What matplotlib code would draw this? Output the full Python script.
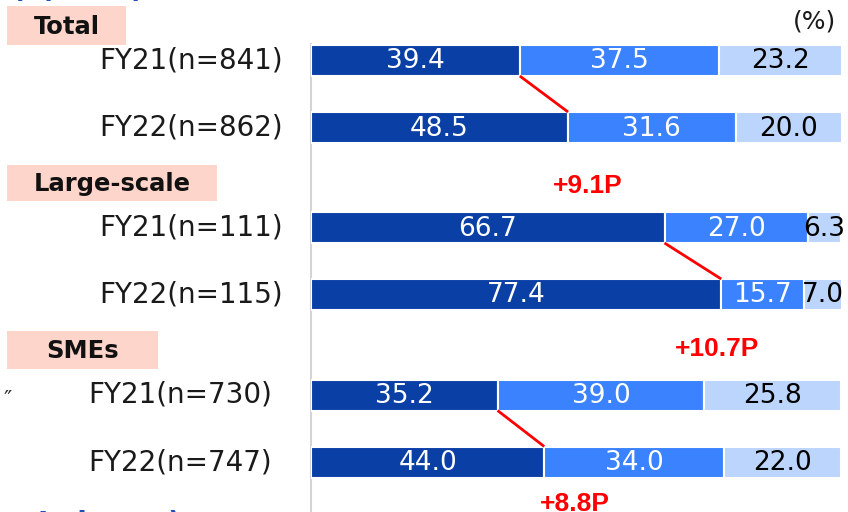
import matplotlib
matplotlib.use("Agg")
import matplotlib.pyplot as plt
from matplotlib.patches import Rectangle

# Survey shares (%) by company size, FY21 vs FY22
groups = ["Total", "Large-scale", "SMEs"]
row_labels = [
    ["FY21(n=841)", "FY22(n=862)"],
    ["FY21(n=111)", "FY22(n=115)"],
    ["FY21(n=730)", "FY22(n=747)"],
]
dark_vals = [[39.4, 48.5], [66.7, 77.4], [35.2, 44.0]]
mid_vals = [[37.5, 31.6], [27.0, 15.7], [39.0, 34.0]]
light_vals = [[23.2, 20.0], [6.3, 7.0], [25.8, 22.0]]

DARK = "#0A3FA6"
MID = "#3A82FF"
LIGHT = "#BCD5FC"
BOX = "#FDD5CA"
RED = "#FF0000"
NAVY = "#1F4FB5"

W, H = 848, 512
fig = plt.figure(figsize=(W / 100, H / 100), dpi=100)

# overlay in pixel coordinates for labels and boxes
ov = fig.add_axes([0, 0, 1, 1])
ov.set_xlim(0, W)
ov.set_ylim(H, 0)
ov.axis("off")

# bar axes: 0..100 % maps to x = 311..841 px
x0, x1 = 311, 841
ax = fig.add_axes([x0 / W, 0, (x1 - x0) / W, 1])
ax.set_xlim(0, 100)
ax.set_ylim(H, 0)
ax.axis("off")
ax.plot([0, 0], [44, H], color="#D4D4D4", lw=1.5, zorder=0, clip_on=False)

row_y = [[60.5, 127.5], [227.5, 294.5], [395, 462]]
bar_h = 31
box_geom = [(7, 6, 119, 39), (7, 165, 210, 36), (7, 331, 151, 38)]
label_right = [283, 283, 272]
diff_pos = [(588, 186), (717, 349), (575, 504)]

for g, name in enumerate(groups):
    bx, by, bw, bh = box_geom[g]
    ov.add_patch(Rectangle((bx, by), bw, bh, facecolor=BOX, edgecolor="none"))
    ov.text(bx + bw / 2, by + bh / 2 + 1, name, ha="center", va="center",
            fontsize=17.5, fontweight="bold", color="#111111")
    for r in range(2):
        y = row_y[g][r]
        d, m, l = dark_vals[g][r], mid_vals[g][r], light_vals[g][r]
        ov.text(label_right[g], y, row_labels[g][r], ha="right", va="center",
                fontsize=20, color="#1A1A1A")
        segs = [(0, d, DARK, "white"), (d, m, MID, "white"), (d + m, l, LIGHT, "black")]
        for left, w, c, tc in segs:
            ax.barh(y, w, left=left, height=bar_h, color=c, edgecolor="white",
                    linewidth=1.5, zorder=2)
            ax.text(left + w / 2, y + 1, f"{w:.1f}", ha="center", va="center",
                    fontsize=19, color=tc, zorder=3, clip_on=False)
    # connector between the ends of the first segments
    ax.plot([dark_vals[g][0], dark_vals[g][1]],
            [row_y[g][0] + bar_h / 2, row_y[g][1] - bar_h / 2],
            color=RED, lw=2, zorder=4, solid_capstyle="butt")
    diff = dark_vals[g][1] - dark_vals[g][0]
    dx, dy = diff_pos[g]
    ov.text(dx, dy, f"+{diff:.1f}P", ha="center", va="center", fontsize=19,
            fontweight="bold", color=RED, family="Liberation Sans")

ov.text(836, 22, "(%)", ha="right", va="center", fontsize=18, color="#1A1A1A")
ov.text(8, 400, "\u2033", ha="center", va="center", fontsize=16, color="#333333")

# section headings running off the top and bottom edges
ov.text(12, -2, "(1) Size)", ha="left", va="baseline", fontsize=20,
        fontweight="bold", color=NAVY)
ov.text(38, 532, "Industry)", ha="left", va="baseline", fontsize=20,
        fontweight="bold", color=NAVY)

fig.savefig("out.png", dpi=100)
